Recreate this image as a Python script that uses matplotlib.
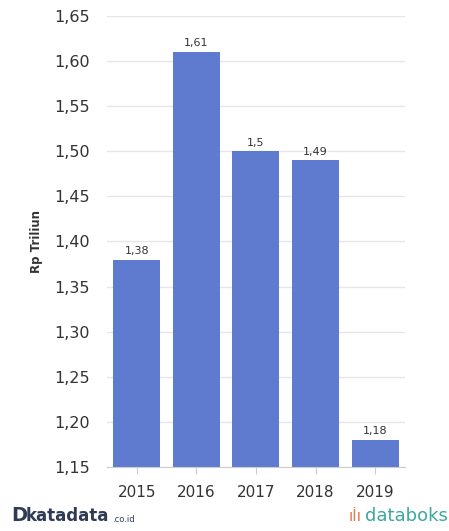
import matplotlib.pyplot as plt
import numpy as np

years = ['2015', '2016', '2017', '2018', '2019']
values = [1.38, 1.61, 1.50, 1.49, 1.18]
value_labels = ['1,38', '1,61', '1,5', '1,49', '1,18']
yticks = [1.15, 1.20, 1.25, 1.30, 1.35, 1.40, 1.45, 1.50, 1.55, 1.60, 1.65]

bar_color = '#5f7bcf'
grid_color = '#e6e6e6'
text_color = '#333333'

fig = plt.figure(figsize=(4.49, 5.31), dpi=100)
ax = fig.add_axes([0.238, 0.1205, 0.664, 0.8495])

x = np.arange(len(years))
ax.bar(x, values, width=0.79, color=bar_color, zorder=2)
for xi, v, lab in zip(x, values, value_labels):
    ax.text(xi, v + 0.004, lab, ha='center', va='bottom', fontsize=8, color=text_color)

ax.set_xlim(-0.5, len(years) - 0.5)
ax.set_ylim(1.15, 1.65)
ax.set_yticks(yticks)
ax.set_yticklabels([f'{t:.2f}'.replace('.', ',') for t in yticks], fontsize=11.5, color=text_color)
ax.set_xticks(x)
ax.set_xticklabels(years, fontsize=11, color=text_color)
ax.tick_params(axis='y', length=0, pad=12)
ax.tick_params(axis='x', length=5, color='#cccccc', pad=8)
ax.yaxis.grid(True, color=grid_color, linewidth=1, zorder=0)
for s in ['top', 'right', 'left']:
    ax.spines[s].set_visible(False)
ax.spines['bottom'].set_color('#cccccc')
ax.set_ylabel('Rp Triliun', fontsize=8.5, fontweight='bold', color=text_color, labelpad=8)

# footer logos
fig.text(0.025, 0.012, 'D', fontsize=14, fontweight='bold', color='#2f3b55', va='bottom')
fig.text(0.058, 0.012, 'katadata', fontsize=12, fontweight='bold', color='#2f3b55', va='bottom')
fig.text(0.25, 0.014, '.co.id', fontsize=6, color='#2f3b55', va='bottom')
fig.text(0.997, 0.012, 'databoks', fontsize=13, color='#3aa8a0', va='bottom', ha='right')
fig.text(0.805, 0.014, 'ıİı', fontsize=11, color='#e07a4f', va='bottom', ha='right')

fig.savefig('out.png', dpi=100)
